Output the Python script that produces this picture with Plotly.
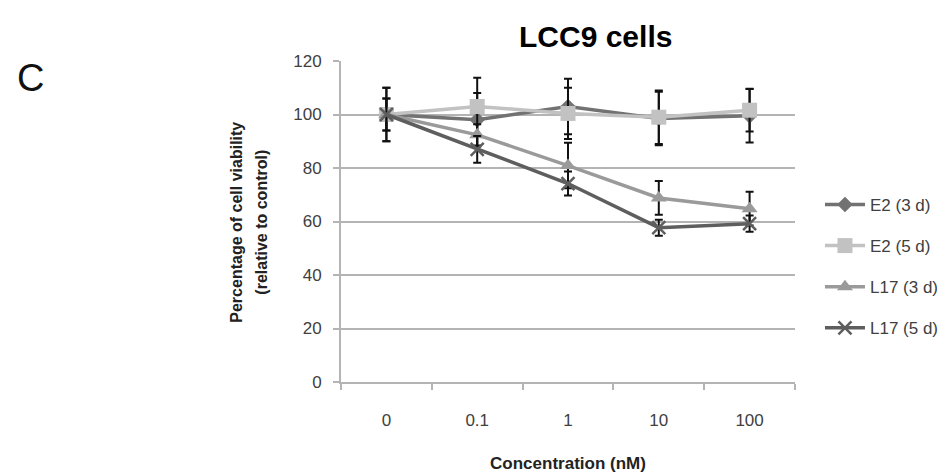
import plotly.graph_objects as go

categories = ["0", "0.1", "1", "10", "100"]

series_names = ["E2 (3 d)", "E2 (5 d)", "L17 (3 d)", "L17 (5 d)"]
e2_3d = [100, 98, 103, 98.5, 99.5]
e2_3d_err = [10, 10, 10.4, 10, 10]
e2_5d = [100, 103, 100.4, 99, 101.6]
e2_5d_err = [6, 10.7, 9.6, 10, 8]
l17_3d = [100, 92.4, 80.9, 68.8, 64.8]
l17_3d_err = [6, 4, 8.5, 6.3, 6.3]
l17_5d = [100, 87, 74.2, 57.7, 59.2]
l17_5d_err = [10, 5, 4.5, 3, 3]

y_ticks = [0, 20, 40, 60, 80, 100, 120]

values = [e2_3d, e2_5d, l17_3d, l17_5d]
errors = [e2_3d_err, e2_5d_err, l17_3d_err, l17_5d_err]
colors = ["#727272", "#c2c2c2", "#9a9a9a", "#5e5e5e"]
symbols = ["diamond", "square", "triangle-up", "x-thin"]
sizes = [12, 15, 14, 13]

FONT = "Liberation Sans, Arial, sans-serif"

fig = go.Figure()
for i, name in enumerate(series_names):
    marker = dict(symbol=symbols[i], size=sizes[i], color=colors[i])
    if symbols[i] == "x-thin":
        marker["line"] = dict(color=colors[i], width=2.5)
    fig.add_trace(go.Scatter(
        x=categories, y=values[i], name=name, mode="lines+markers",
        line=dict(color=colors[i], width=3.5),
        marker=marker,
        legendgroup=name,
        error_y=dict(type="data", array=errors[i], visible=True,
                     color="#111111", thickness=2, width=4),
    ))

fig.update_layout(
    width=948, height=474,
    paper_bgcolor="white", plot_bgcolor="white",
    margin=dict(l=333, r=160, t=53, b=93),
    font=dict(family=FONT, size=17, color="#404040"),
    showlegend=True,
    legend=dict(x=1.055, xanchor="left", y=0.36, yanchor="middle",
                font=dict(size=17, color="#404040"),
                tracegroupgap=16, itemwidth=40,
                bgcolor="rgba(0,0,0,0)"),
    xaxis=dict(
        type="category", range=[-0.5, 4.5],
        showline=True, linecolor="#b4b4b4", linewidth=2,
        ticks="outside", ticklen=6, tickcolor="#b4b4b4", tickwidth=2,
        tickson="boundaries", ticklabelstandoff=22,
        showgrid=False,
        tickfont=dict(size=17, color="#404040"),
        title=dict(text="<b>Concentration (nM)</b>", standoff=28,
                   font=dict(size=17, color="#222222")),
    ),
    yaxis=dict(
        range=[0, 120], tickvals=y_ticks,
        showline=True, linecolor="#b4b4b4", linewidth=2,
        ticks="outside", ticklen=6, tickcolor="#b4b4b4", tickwidth=2,
        showgrid=True, gridcolor="#b4b4b4", gridwidth=2,
        zeroline=False, ticklabelstandoff=8,
        tickfont=dict(size=17, color="#404040"),
    ),
)

PLOT_L, PLOT_W, PLOT_B, PLOT_H = 333, 455, 381, 328


def px(xp):
    return (xp - PLOT_L) / PLOT_W


def py(yp):
    return (PLOT_B - yp) / PLOT_H


fig.add_annotation(xref="paper", yref="paper", x=px(588), y=py(28),
                   xanchor="center", yanchor="middle",
                   text="<b>LCC9 cells</b>", showarrow=False,
                   font=dict(size=30, color="#000000", family=FONT))
fig.add_annotation(xref="paper", yref="paper", x=px(22), y=py(70),
                   xanchor="center", yanchor="middle",
                   text="C", showarrow=False,
                   font=dict(size=38, color="#111111", family=FONT))
fig.add_annotation(xref="paper", yref="paper", x=px(228), y=py(218),
                   xanchor="center", yanchor="middle",
                   text="<b>Percentage of cell viability</b>", showarrow=False,
                   textangle=-90, font=dict(size=16, color="#222222", family=FONT))
fig.add_annotation(xref="paper", yref="paper", x=px(253), y=py(218),
                   xanchor="center", yanchor="middle",
                   text="<b>(relative to control)</b>", showarrow=False,
                   textangle=-90, font=dict(size=16, color="#222222", family=FONT))

fig.write_html("out.html")
